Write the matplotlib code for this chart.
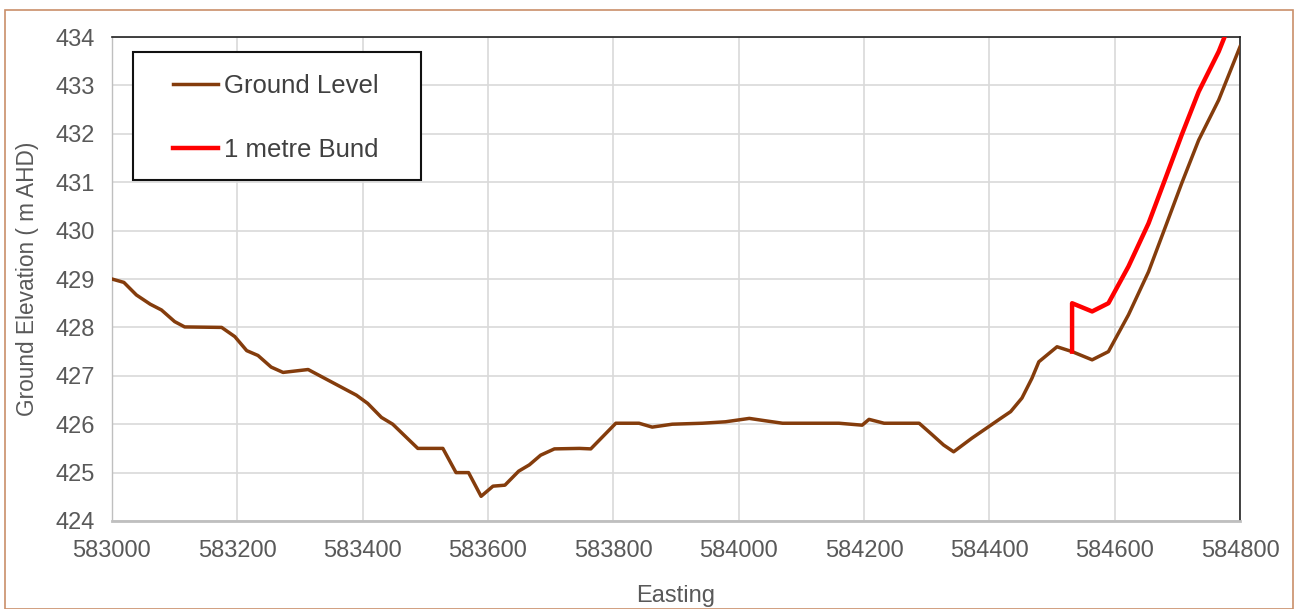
import numpy as np
import matplotlib.pyplot as plt
from matplotlib.patches import Rectangle

# ground profile along the section (easting, m AHD)
ground_e = [583000, 583019, 583039, 583061, 583079, 583100, 583116, 583175, 583196,
            583215, 583233, 583254, 583273, 583313, 583342, 583390, 583408, 583430,
            583448, 583488, 583528, 583549, 583569, 583589, 583608, 583627, 583649,
            583666, 583684, 583706, 583746, 583764, 583804, 583841, 583862, 583894,
            583942, 583979, 584017, 584043, 584070, 584160, 584197, 584208, 584232,
            584288, 584309, 584327, 584343, 584372, 584399, 584418, 584434, 584452,
            584468, 584479, 584508, 584532, 584564, 584590, 584622, 584654, 584681,
            584707, 584734, 584766, 584800]
ground_z = [429.0, 428.93, 428.67, 428.48, 428.36, 428.12, 428.01, 428.0, 427.81,
            427.52, 427.42, 427.18, 427.07, 427.13, 426.93, 426.6, 426.43, 426.14,
            426.0, 425.5, 425.5, 425.0, 425.0, 424.51, 424.72, 424.74, 425.03,
            425.16, 425.36, 425.49, 425.5, 425.49, 426.02, 426.02, 425.94, 426.0,
            426.02, 426.05, 426.12, 426.07, 426.02, 426.02, 425.98, 426.1, 426.02,
            426.02, 425.78, 425.57, 425.43, 425.71, 425.95, 426.12, 426.26, 426.54,
            426.95, 427.29, 427.6, 427.5, 427.33, 427.5, 428.26, 429.15, 430.08,
            430.98, 431.87, 432.7, 433.8]

# bund crest on the eastern slope
bund_e = [584532, 584532, 584564, 584590, 584622, 584654, 584681, 584707, 584734,
          584766, 584800]
bund_z = [427.5, 428.5, 428.33, 428.5, 429.26, 430.15, 431.08, 431.98, 432.87,
          433.7, 434.8]

x_ticks = np.arange(583000, 584801, 200)
y_ticks = np.arange(424, 435, 1)

plt.rcParams['font.family'] = ['Liberation Sans', 'DejaVu Sans']

fig = plt.figure(figsize=(12.99, 6.09), dpi=100)
ax = fig.add_axes([0.0862, 0.1445, 0.8684, 0.7947])

ax.plot(ground_e, ground_z, color='#843c0c', lw=2.5, label='Ground Level', zorder=3)
ax.plot(bund_e, bund_z, color='#ff0000', lw=3.2, label='1 metre Bund', zorder=3)

ax.set_xlim(583000, 584800)
ax.set_ylim(424, 434)
ax.set_xticks(x_ticks)
ax.set_yticks(y_ticks)
ax.grid(True, color='#d9d9d9', lw=1.2)
ax.set_axisbelow(True)
ax.tick_params(axis='x', length=0, labelsize=17, labelcolor='#595959', pad=14)
ax.tick_params(axis='y', length=0, labelsize=17, labelcolor='#595959', pad=12)

for side in ['top', 'right']:
    ax.spines[side].set_color('#222222')
    ax.spines[side].set_linewidth(1.2)
ax.spines['left'].set_color('#bfbfbf')
ax.spines['left'].set_linewidth(1.0)
ax.spines['bottom'].set_color('#bfbfbf')
ax.spines['bottom'].set_linewidth(2.0)

ax.set_xlabel('Easting', fontsize=17, color='#595959', labelpad=16)
ax.set_ylabel('Ground Elevation ( m AHD)', fontsize=16.3, color='#595959', labelpad=12)

# legend without its own frame, boxed separately
leg = ax.legend(loc='upper left', bbox_to_anchor=(0.0541, 0.924), frameon=False,
                handlelength=1.75, handletextpad=0.25, labelspacing=1.57,
                borderpad=0, borderaxespad=0, prop={'size': 18.5})
for t in leg.get_texts():
    t.set_color('#404040')
ax.add_patch(Rectangle((0.0186, 0.7045), 0.2553, 0.2645, transform=ax.transAxes,
                       fill=True, facecolor='white', edgecolor='#111111', lw=1.5,
                       zorder=4))
leg.set_zorder(5)

# thin outer frame round the whole chart
fig.patches.append(Rectangle((0.004, 0.0), 0.991, 0.984, transform=fig.transFigure,
                             fill=False, edgecolor='#c98f6a', lw=1.2))

fig.savefig('out.png', dpi=100)
